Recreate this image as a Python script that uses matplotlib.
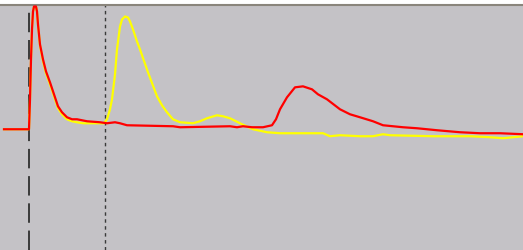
import matplotlib
matplotlib.use("Agg")
import matplotlib.pyplot as plt
import numpy as np

# time (arbitrary units) and signal (baseline = 0)
red_t = [4, 29, 30, 31, 32, 33, 34, 36, 37, 38, 40, 43, 46, 50, 54, 58, 62, 67, 72, 77, 87, 100, 107,
         115, 120, 127, 173, 180, 230, 237, 243, 252, 263, 272, 276, 280, 287, 295, 303, 312, 318,
         327, 340, 350, 360, 373, 383, 403, 417, 437, 460, 480, 500, 523]
red_y = [0, 0, 30, 70, 100, 118, 123, 123, 118, 105, 85, 70, 58, 47, 35, 23, 17, 12, 10, 10, 8, 7, 6,
         7, 6, 4, 3, 2, 3, 2, 3, 2, 2, 4, 10, 20, 32, 42, 43, 40, 35,
         30, 20, 15, 12, 8, 4, 2, 1, -1, -3, -4, -4, -5]

yellow_t = [4, 29, 30, 31, 32, 33, 34, 36, 37, 38, 40, 43, 46, 50, 54, 58, 62, 67, 72, 77, 83, 95, 104,
            107, 110, 112, 115, 117, 120, 122, 125, 128, 130, 133, 137, 140, 148, 157, 162, 167, 173,
            180, 193, 200, 207, 217, 223, 230, 242, 253, 267, 280, 323, 330, 340, 360, 373, 383, 390,
            433, 460, 470, 490, 503, 523]
yellow_y = [0, 0, 30, 70, 100, 118, 123, 123, 118, 105, 84, 68, 56, 45, 33, 21, 15, 10, 8, 7, 6, 6, 6,
            10, 20, 30, 55, 80, 103, 110, 113, 112, 108, 100, 88, 80, 57, 33, 24, 17, 10,
            7, 6, 8, 11, 14, 13, 11, 5, 0, -3, -4, -4, -7, -6, -7, -7, -5, -6,
            -7, -7, -7, -8, -9, -7]

marker_dashed = 29
marker_dotted = 105

fig = plt.figure(figsize=(5.23, 2.51), dpi=100)
fig.patch.set_facecolor("white")
ax = fig.add_axes([0, 0, 1, 245 / 251])
ax.set_facecolor("#c4c2c6")
ax.set_xlim(0, 523)
ax.set_ylim(-121, 124.5)

ax.axvline(marker_dashed, color="#3a3a3a", lw=1.4, ls=(0, (10, 4)), zorder=1)
ax.axvline(marker_dotted, color="#3a3a3a", lw=1.0, ls=(0, (2.5, 2.5)), zorder=1)

ax.plot(yellow_t, yellow_y, color="#ffff00", lw=1.6, zorder=2)
ax.plot(red_t, red_y, color="#ff0000", lw=1.6, zorder=3)

for s in ["left", "right", "bottom"]:
    ax.spines[s].set_visible(False)
ax.spines["top"].set_color("#8a857c")
ax.spines["top"].set_linewidth(1.5)
ax.set_xticks([])
ax.set_yticks([])

fig.savefig("out.png", dpi=100, facecolor=fig.get_facecolor())
